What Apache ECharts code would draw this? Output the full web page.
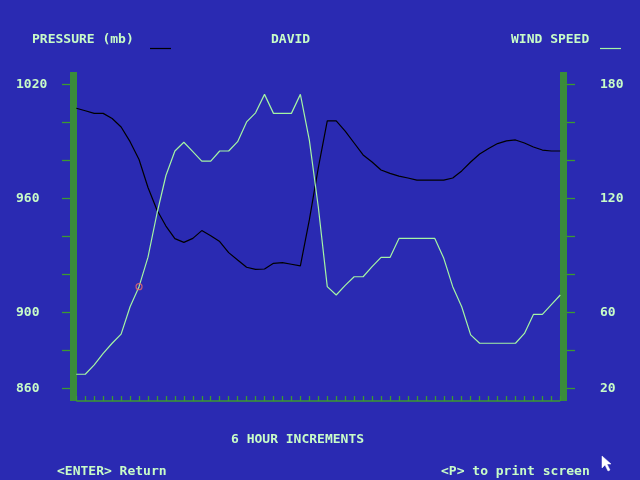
<!DOCTYPE html>
<html>
<head>
<meta charset="utf-8">
<script src="https://cdn.jsdelivr.net/npm/echarts@6/dist/echarts.min.js"></script>
<style>
html,body{margin:0;padding:0;background:#2a2ab2;}
#chart{width:640px;height:480px;}
</style>
</head>
<body>
<div id="chart"></div>
<script>
// 6-hour increments
var hours = [0,6,12,18,24,30,36,42,48,54,60,66,72,78,84,90,96,102,108,114,120,126,132,138,144,150,156,162,168,174,180,186,192,198,204,210,216,222,228,234,240,246,252,258,264,270,276,282,288,294,300,306,312,318,324];

// Pressure (mb)
var pressure = [1007.4,1006.1,1004.7,1004.7,1002.0,997.5,989.8,980.4,965.7,953.8,945.4,938.8,936.8,938.9,943.0,940.3,937.2,931.4,927.5,923.7,922.6,922.8,925.8,926.1,925.3,924.4,948.6,976.0,1000.8,1000.8,995.4,989.1,982.8,979.1,974.9,973.1,971.7,970.7,969.6,969.6,969.6,969.6,970.7,974.4,979.1,983.3,986.2,988.8,990.2,990.7,989.1,987.0,985.4,984.9,984.9];

// Wind speed
var wind = [27.4,27.4,32.3,38.4,43.7,48.5,62.9,73.5,89.0,112.0,132.0,144.9,149.5,144.6,139.6,139.6,144.9,144.9,149.8,160.2,165.0,174.7,164.7,164.7,164.7,174.7,150.6,115.4,73.5,69.1,74.2,78.7,78.7,84.0,88.9,88.9,98.9,98.9,98.9,98.9,98.9,88.4,73.5,62.9,48.1,43.7,43.7,43.7,43.7,43.7,48.9,58.9,58.9,64.0,69.1];

// Tick labels shown on the axes
var pressureLabels = [860, 900, 960, 1020];
var windLabels = [20, 60, 120, 180];

// small marker on the wind trace
var markerIndex = 7;
var markerValue = 73.5;

var TEXT = '#c8fcc8';
var WINDC = '#a4f4a4';
var GREEN = '#3a8c3a';
var TICKG = '#3c9a30';
var FONT = 'DejaVu Sans Mono';

var chart = echarts.init(document.getElementById('chart'));

function txt(x, y, s) {
  return { type: 'text', left: x, top: y, style: { text: s, fill: TEXT, font: 'bold 13px "' + FONT + '"' } };
}

var option = {
  backgroundColor: '#2a2ab2',
  animation: false,
  grid: [
    { left: 76.3, right: 79.7, top: 84.3, height: 304 },
    { left: 76.3, right: 79.7, top: 72, height: 329 }
  ],
  xAxis: [
    { type: 'category', gridIndex: 0, data: hours, boundaryGap: false, show: false },
    { type: 'category', gridIndex: 1, data: hours, boundaryGap: false,
      axisLine: { show: true, lineStyle: { color: TICKG, width: 1.5, cap: 'butt' } },
      axisTick: { show: true, interval: 0, inside: true, length: 5, lineStyle: { color: TICKG, width: 1.3 } },
      axisLabel: { show: false }, splitLine: { show: false } }
  ],
  yAxis: [
    { type: 'value', gridIndex: 0, position: 'left', min: 860, max: 1020, interval: 20, offset: 6.3,
      axisLine: { show: false },
      axisTick: { show: true, length: 8, lineStyle: { color: TICKG, width: 1.3 } },
      splitLine: { show: false },
      axisLabel: { show: true, margin: 54, align: 'left', color: TEXT, fontFamily: FONT, fontWeight: 'bold', fontSize: 13,
        verticalAlign: 'middle', lineHeight: 13, padding: [4, 0, 0, 0],
        formatter: function (v) { return pressureLabels.indexOf(v) >= 0 ? String(v) : ''; } } },
    { type: 'value', gridIndex: 0, position: 'right', min: 20, max: 180, interval: 20, offset: 6.7,
      axisLine: { show: false },
      axisTick: { show: true, length: 8, lineStyle: { color: TICKG, width: 1.3 } },
      splitLine: { show: false },
      axisLabel: { show: true, margin: 33, align: 'left', color: TEXT, fontFamily: FONT, fontWeight: 'bold', fontSize: 13,
        verticalAlign: 'middle', lineHeight: 13, padding: [4, 0, 0, 0],
        formatter: function (v) { return windLabels.indexOf(v) >= 0 ? String(v) : ''; } } },
    { type: 'value', gridIndex: 1, position: 'left', min: 0, max: 1, offset: 2.8,
      axisLine: { show: true, lineStyle: { color: GREEN, width: 7, cap: 'butt' } },
      axisTick: { show: false }, axisLabel: { show: false }, splitLine: { show: false } },
    { type: 'value', gridIndex: 1, position: 'right', min: 0, max: 1, offset: 3.2,
      axisLine: { show: true, lineStyle: { color: GREEN, width: 7, cap: 'butt' } },
      axisTick: { show: false }, axisLabel: { show: false }, splitLine: { show: false } }
  ],
  series: [
    { name: 'PRESSURE (mb)', type: 'line', xAxisIndex: 0, yAxisIndex: 0, data: pressure,
      symbol: 'none', lineStyle: { color: '#000000', width: 1.2 }, z: 5 },
    { name: 'WIND SPEED', type: 'line', xAxisIndex: 0, yAxisIndex: 1, data: wind,
      symbol: 'none', lineStyle: { color: WINDC, width: 1.2 }, z: 5 },
    { type: 'scatter', xAxisIndex: 0, yAxisIndex: 1, data: [[markerIndex, markerValue]],
      symbol: 'circle', symbolSize: 6,
      itemStyle: { color: 'rgba(0,0,0,0)', borderColor: '#e86a6a', borderWidth: 1.2 }, z: 6 }
  ],
  graphic: [
    txt(32, 33, 'PRESSURE (mb)'),
    { type: 'line', shape: { x1: 150, y1: 48.5, x2: 171, y2: 48.5 }, style: { stroke: '#000000', lineWidth: 1.2 } },
    txt(271, 33, 'DAVID'),
    txt(511, 33, 'WIND SPEED'),
    { type: 'line', shape: { x1: 600, y1: 48.5, x2: 621, y2: 48.5 }, style: { stroke: WINDC, lineWidth: 1.2 } },
    txt(231, 433, '6 HOUR INCREMENTS'),
    txt(57, 465, '<ENTER> Return'),
    txt(441, 465, '<P> to print screen'),
    { type: 'polygon', shape: { points: [[602,456],[602,468],[605,465],[608,471],[610,470],[607,464],[611,464]] },
      style: { fill: '#ffffff', stroke: '#ffffff', lineWidth: 0.5 } }
  ]
};
chart.setOption(option);
</script>
</body>
</html>
